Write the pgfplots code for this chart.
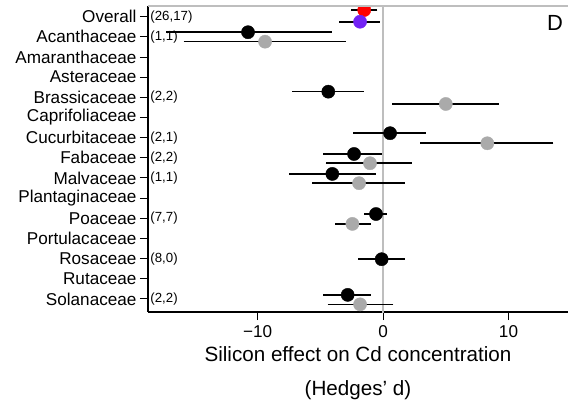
\documentclass[border=0pt]{standalone}
\usepackage{fontspec}
\setmainfont{Liberation Sans}
\usepackage{pgfplots}
\usepackage{pgfplotstable}
\pgfplotsset{compat=1.18}
\definecolor{ptgray}{RGB}{170,170,170}
\definecolor{zeroline}{RGB}{190,190,190}
\definecolor{ovred}{RGB}{255,0,0}
\definecolor{ovviolet}{RGB}{115,35,245}

% black points: effect, row position, lower/upper error
\pgfplotstableread{
x y em ep
-10.76 0.77 6.54 6.67
-4.36 3.72 2.92 2.85
0.56 5.78 2.93 2.84
-2.31 6.81 2.44 2.26
-4.04 7.80 3.43 3.46
-0.56 9.79 0.93 0.85
-0.11 12.03 1.91 1.86
-2.82 13.80 1.93 1.84
}\blackpts

% gray points
\pgfplotstableread{
x y em ep
-9.40 1.24 6.50 6.43
5.00 4.33 4.26 4.24
8.31 6.28 5.36 5.26
-1.04 7.27 3.53 3.33
-1.91 8.26 3.77 3.66
-2.44 10.28 1.38 1.46
-1.83 14.27 2.58 2.65
}\graypts

% sample counts
\pgfplotstableread{
x y lab
-18.55 0 (26,17)
-18.55 1 (1,1)
-18.55 4 (2,2)
-18.55 6 (2,1)
-18.55 7 (2,2)
-18.55 8 (1,1)
-18.55 10 (7,7)
-18.55 12 (8,0)
-18.55 14 (2,2)
}\counts

\begin{document}
\begin{tikzpicture}
\begin{axis}[
  name=ax,
  scale only axis, width=420bp, height=306bp,
  xmin=-18.73, xmax=14.74, ymin=-0.53, ymax=14.65, y dir=reverse,
  axis lines=left, axis line style={-, line width=1.2pt, black},
  xtick={-10,0,10}, xticklabels={−10,0,10},
  ytick={0,...,14},
  yticklabels={Overall,Acanthaceae,Amaranthaceae,Asteraceae,Brassicaceae,Caprifoliaceae,Cucurbitaceae,Fabaceae,Malvaceae,Plantaginaceae,Poaceae,Portulacaceae,Rosaceae,Rutaceae,Solanaceae},
  tick align=outside, major tick length=8bp,
  tick style={line width=1pt, black},
  tick label style={font=\fontsize{17.2}{19}\selectfont},
  xticklabel style={yshift=-2bp},
  xlabel={Silicon effect on Cd concentration\\[10pt](Hedges' d)},
  xlabel style={align=center, font=\fontsize{20.7}{24}\selectfont, yshift=-2bp},
  clip marker paths=true,
  error bars/error bar style={line width=1.6pt, black},
  error bars/error mark=none,
]
\addplot[zeroline, line width=1.2pt, forget plot] coordinates {(0,-0.6) (0,14.7)};

\addplot[only marks, mark=*, mark size=6.6bp, black,
  error bars/.cd, x dir=both, x explicit]
  table[x=x, y=y, x error minus=em, x error plus=ep] {\blackpts};

\addplot[only marks, mark=*, mark size=6.6bp, draw=ptgray, fill=ptgray,
  error bars/.cd, x dir=both, x explicit]
  table[x=x, y=y, x error minus=em, x error plus=ep] {\graypts};

\addplot[only marks, mark=*, mark size=6.6bp, draw=ovred, fill=ovred,
  error bars/.cd, x dir=both, x explicit]
  coordinates {(-1.50,-0.33) -= (1.07,0) += (1.05,0)};

\addplot[only marks, mark=*, mark size=6.6bp, draw=ovviolet, fill=ovviolet,
  error bars/.cd, x dir=both, x explicit]
  coordinates {(-1.83,0.25) -= (1.64,0) += (1.59,0)};

\addplot[draw=none, nodes near coords, point meta=explicit symbolic,
  nodes near coords align={anchor=west},
  every node near coord/.append style={anchor=west, inner sep=0pt,
    font=\fontsize{13.3}{15}\selectfont}]
  table[x=x, y=y, meta=lab] {\counts};
\end{axis}
\draw[zeroline, line width=1.2pt] (ax.north west) -- (ax.north east);
\node[font=\fontsize{22}{24}\selectfont] at ([shift={(-13bp,-17bp)}]ax.north east) {D};
\pgfresetboundingbox
\path ([shift={(-148bp,-90bp)}]ax.south west) rectangle ([shift={(0bp,6bp)}]ax.north east);
\end{tikzpicture}
\end{document}
